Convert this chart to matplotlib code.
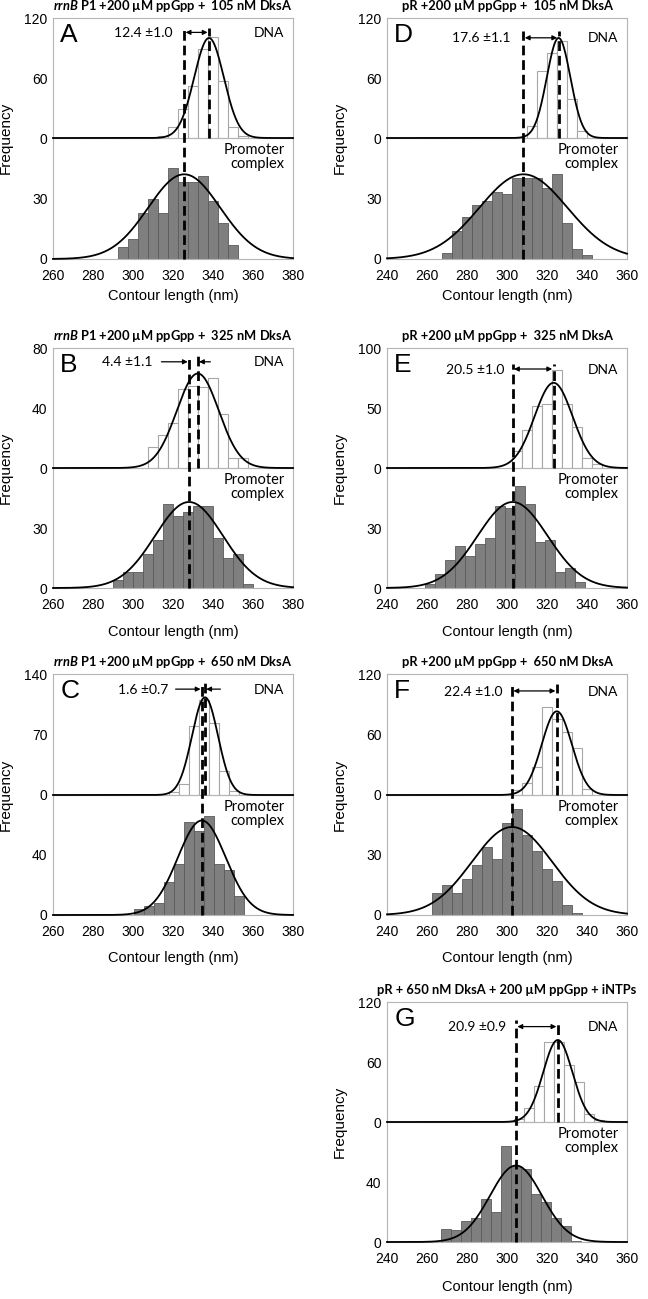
import numpy as np
import matplotlib.pyplot as plt
from matplotlib.transforms import blended_transform_factory

plt.rcParams['font.family'] = ['Liberation Sans', 'DejaVu Sans']
plt.rcParams['mathtext.fontset'] = 'custom'
plt.rcParams['mathtext.it'] = 'Lato:italic:bold'
plt.rcParams['mathtext.rm'] = 'Lato:bold'

W, H = 648, 1299
LATO = ['Lato', 'DejaVu Sans']

# --- A: rrnB P1, 105 nM DksA
A_dna_x = [315, 320, 325, 330, 335, 340, 345, 350, 355]
A_dna_n = [2, 11, 29, 52, 89, 101, 57, 11, 2]
A_cpx_x = [295, 300, 305, 310, 315, 320, 325, 330, 335, 340, 345, 350]
A_cpx_n = [6, 10, 23, 30, 23, 45, 38, 38, 41, 29, 18, 7]
A_fit = [(338.0, 7.4, 100), (325.6, 18.0, 42)]   # (mean, sd, amplitude) DNA, complex

# --- B: rrnB P1, 325 nM DksA
B_dna_x = [310, 315, 320, 325, 330, 335, 340, 345, 350, 355]
B_dna_n = [14, 22, 30, 53, 55, 54, 60, 36, 7, 7]
B_cpx_x = [292.5, 297.5, 302.5, 307.5, 312.5, 317.5, 322.5, 327.5, 332.5, 337.5,
           342.5, 347.5, 352.5, 357.5]
B_cpx_n = [4, 8, 8, 17, 24, 42, 36, 38, 41, 41, 25, 15, 17, 2]
B_fit = [(332.4, 10.5, 63), (328.0, 17.0, 43)]

# --- C: rrnB P1, 650 nM DksA
C_dna_x = [320.5, 325.5, 330.5, 335.5, 340.5, 345.5, 350.5]
C_dna_n = [3, 13, 80, 110, 83, 28, 5]
C_cpx_x = [303, 308, 313, 318, 323, 328, 333, 338, 343, 348, 353]
C_cpx_n = [4, 6, 8, 22, 34, 62, 56, 66, 34, 30, 13]
C_fit = [(336.0, 6.5, 113), (334.4, 12.0, 63)]

# --- D: pR, 105 nM DksA
D_dna_x = [312.5, 317.5, 322.5, 327.5, 332.5, 337.5]
D_dna_n = [12, 67, 85, 97, 39, 7]
D_cpx_x = [270, 275, 280, 285, 290, 295, 300, 305, 310, 315, 320, 325, 330, 335, 340]
D_cpx_n = [3, 14, 21, 27, 29, 33, 32, 40, 40, 40, 35, 42, 18, 5, 2]
D_fit = [(325.8, 5.9, 100), (308.2, 22.0, 42)]

# --- E: pR, 325 nM DksA
E_dna_x = [305, 310, 315, 320, 325, 330, 335, 340, 345]
E_dna_n = [14, 32, 52, 53, 82, 53, 34, 8, 3]
E_cpx_x = [261.5, 266.5, 271.5, 276.5, 281.5, 286.5, 291.5, 296.5, 301.5, 306.5,
           311.5, 316.5, 321.5, 326.5, 331.5, 336.5]
E_cpx_n = [2, 7, 14, 21, 16, 22, 25, 41, 40, 51, 42, 23, 24, 8, 10, 3]
E_fit = [(323.3, 9.5, 71), (302.8, 17.5, 43)]

# --- F: pR, 650 nM DksA
F_dna_x = [305, 310, 315, 320, 325, 330, 335, 340]
F_dna_n = [5, 12, 28, 87, 75, 62, 47, 6]
F_cpx_x = [265, 270, 275, 280, 285, 290, 295, 300, 305, 310, 315, 320, 325, 330, 335]
F_cpx_n = [11, 15, 11, 18, 25, 34, 28, 46, 53, 40, 32, 23, 17, 5, 1]
F_fit = [(324.9, 7.5, 83), (302.5, 20.0, 44)]

# --- G: pR + iNTPs
G_dna_x = [306, 311, 316, 321, 326, 331, 336, 341, 346]
G_dna_n = [3, 14, 36, 80, 80, 57, 40, 8, 2]
G_cpx_x = [269.5, 274.5, 279.5, 284.5, 289.5, 294.5, 299.5, 304.5, 309.5, 314.5,
           319.5, 324.5, 329.5, 334.5]
G_cpx_n = [9, 8, 14, 16, 29, 20, 64, 51, 49, 32, 27, 16, 11, 1]
G_fit = [(325.4, 7.3, 82), (304.5, 13.0, 51)]

TITLES = {
    'A': r'$\mathit{rrnB}$ P1 +200 µM ppGpp +  105 nM DksA',
    'B': r'$\mathit{rrnB}$ P1 +200 µM ppGpp +  325 nM DksA',
    'C': r'$\mathit{rrnB}$ P1 +200 µM ppGpp +  650 nM DksA',
    'D': 'pR +200 µM ppGpp +  105 nM DksA',
    'E': 'pR +200 µM ppGpp +  325 nM DksA',
    'F': 'pR +200 µM ppGpp +  650 nM DksA',
    'G': 'pR + 650 nM DksA + 200 µM ppGpp + iNTPs',
}
SHIFTS = {'A': '12.4 ±1.0', 'B': '4.4 ±1.1', 'C': '1.6 ±0.7', 'D': '17.6 ±1.1',
          'E': '20.5 ±1.0', 'F': '22.4 ±1.0', 'G': '20.9 ±0.9'}

COLS = {'L': (53, 293), 'R': (387, 627)}
ROWS = [(18, 138, 259), (348, 468, 588), (674, 795, 915), (1002, 1122, 1242)]

PANELS = [
    # key, col, row, xlim, top ymax, bottom ymax, data, fit, label x, text y, dash top, arrow starts
    ('A', 'L', 0, (260, 380), 120, 60, (A_dna_x, A_dna_n, A_cpx_x, A_cpx_n), A_fit, 319.5, 0.875, 0.92, None),
    ('B', 'L', 1, (260, 380), 80, 60, (B_dna_x, B_dna_n, B_cpx_x, B_cpx_n), B_fit, 309.5, 0.88, 0.94, (314.2, 338.7)),
    ('C', 'L', 2, (260, 380), 140, 80, (C_dna_x, C_dna_n, C_cpx_x, C_cpx_n), C_fit, 317.5, 0.87, 0.925, (321.3, 343.7)),
    ('D', 'R', 0, (240, 360), 120, 60, (D_dna_x, D_dna_n, D_cpx_x, D_cpx_n), D_fit, 302.0, 0.83, 0.89, None),
    ('E', 'R', 1, (240, 360), 100, 60, (E_dna_x, E_dna_n, E_cpx_x, E_cpx_n), E_fit, 298.7, 0.82, 0.87, None),
    ('F', 'R', 2, (240, 360), 120, 60, (F_dna_x, F_dna_n, F_cpx_x, F_cpx_n), F_fit, 298.0, 0.855, 0.917, None),
    ('G', 'R', 3, (240, 360), 120, 80, (G_dna_x, G_dna_n, G_cpx_x, G_cpx_n), G_fit, 299.5, 0.79, 0.85, None),
]
XLABEL_GAP = [37, 44, 43, 45]


def gauss(x, mu, sd, amp):
    return amp * np.exp(-0.5 * ((x - mu) / sd) ** 2)


fig = plt.figure(figsize=(W / 100, H / 100), dpi=100)

for key, col, row, xlim, ytop, ybot, data, fit, lab_x, txt_y, dash_top, starts in PANELS:
    x0, x1 = COLS[col]
    top, mid, bot = ROWS[row]
    ax_b = fig.add_axes([x0 / W, 1 - bot / H, (x1 - x0) / W, (bot - mid) / H])
    ax_t = fig.add_axes([x0 / W, 1 - mid / H, (x1 - x0) / W, (mid - top) / H])
    dna_x, dna_n, cpx_x, cpx_n = data
    (mu_d, sd_d, amp_d), (mu_c, sd_c, amp_c) = fit
    xs = np.linspace(xlim[0], xlim[1], 500)

    ax_t.bar(dna_x, dna_n, width=5, color='white', edgecolor='#a6a6a6', linewidth=0.8, zorder=2)
    ax_b.bar(cpx_x, cpx_n, width=5, color='#7f7f7f', edgecolor='#5a5a5a', linewidth=0.6, zorder=2)
    ax_t.plot(xs, gauss(xs, mu_d, sd_d, amp_d), color='black', lw=1.3, zorder=3, clip_on=False)
    ax_b.plot(xs, gauss(xs, mu_c, sd_c, amp_c), color='black', lw=1.3, zorder=3, clip_on=False)

    for ax in (ax_t, ax_b):
        ax.set_xlim(xlim)
        ax.set_xticks(np.arange(xlim[0], xlim[1] + 1, 20))
        for s in ax.spines.values():
            s.set_color('#b5b5b5')
            s.set_linewidth(0.8)
        ax.tick_params(axis='y', length=0, labelsize=10, pad=4)
        ax.tick_params(axis='x', length=0, labelsize=10, pad=7)
    ax_t.tick_params(labelbottom=False)
    ax_t.set_ylim(0, ytop)
    ax_t.set_yticks([0, ytop // 2, ytop])
    ax_b.set_ylim(0, ybot)
    ax_b.set_yticks([0, ybot // 2])

    # dashed lines: complex peak spans both halves, DNA peak only the upper one
    h_ratio = (bot - mid) / (mid - top)
    tr = blended_transform_factory(ax_t.transData, ax_t.transAxes)
    ax_t.plot([mu_c, mu_c], [-h_ratio, dash_top], transform=tr, color='black', lw=2.0,
              ls=(0, (3.5, 1.75)), clip_on=False, zorder=4)
    ax_t.plot([mu_d, mu_d], [0, dash_top], transform=tr, color='black', lw=2.0,
              ls=(0, (3.5, 1.75)), clip_on=False, zorder=4)

    arr_y = txt_y + 0.005
    if starts is None:
        ax_t.annotate('', xy=(mu_d, arr_y), xytext=(mu_c, arr_y), xycoords=tr, textcoords=tr,
                      arrowprops=dict(arrowstyle='<|-|>', color='black', lw=0.9,
                                      shrinkA=1, shrinkB=1, mutation_scale=7))
    else:
        ax_t.annotate('', xy=(mu_c - 0.6, arr_y), xytext=(starts[0], arr_y), xycoords=tr, textcoords=tr,
                      arrowprops=dict(arrowstyle='-|>', color='black', lw=0.9,
                                      shrinkA=0, shrinkB=0, mutation_scale=7))
        ax_t.annotate('', xy=(mu_d + 0.6, arr_y), xytext=(starts[1], arr_y), xycoords=tr, textcoords=tr,
                      arrowprops=dict(arrowstyle='-|>', color='black', lw=0.9,
                                      shrinkA=0, shrinkB=0, mutation_scale=7))

    ax_t.text(lab_x, txt_y, SHIFTS[key], transform=tr, ha='right', va='center',
              fontsize=10, family=LATO)
    ax_t.text(0.965, txt_y, 'DNA', transform=ax_t.transAxes, ha='right', va='center',
              fontsize=10, family=LATO)
    ax_b.text(0.965, 0.845, 'Promoter\ncomplex', transform=ax_b.transAxes, ha='right',
              va='center', fontsize=10.5, family=LATO, linespacing=1.0)
    ax_t.text(0.03, 0.86, key, transform=ax_t.transAxes, ha='left', va='center', fontsize=19)

    xc = (x0 + x1) / 2
    fig.text(xc / W, 1 - (top - 12) / H, TITLES[key], ha='center', va='center',
             fontsize=9.3, fontweight='bold', family=LATO)
    fig.text(xc / W, 1 - (bot + XLABEL_GAP[row]) / H, 'Contour length (nm)', ha='center',
             va='center', fontsize=10.5)
    fig.text((x0 - 47) / W, 1 - mid / H, 'Frequency', rotation=90, ha='center',
             va='center', fontsize=11)

fig.savefig('out.png', dpi=100, facecolor='white')
